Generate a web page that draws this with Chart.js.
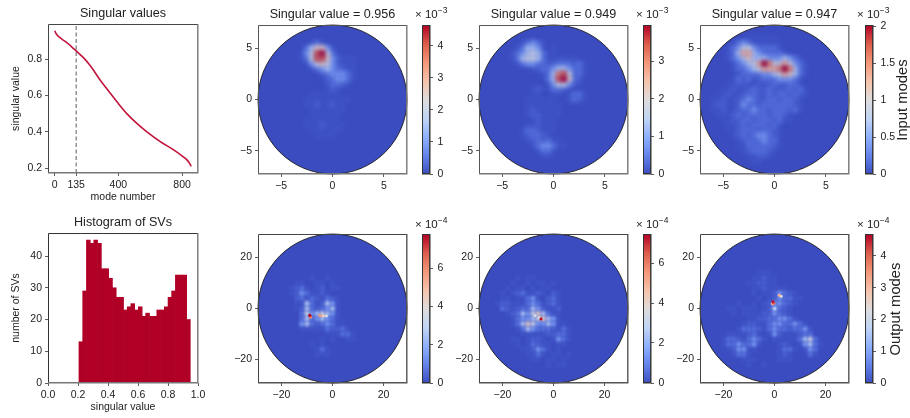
<!DOCTYPE html>
<html>
<head>
<meta charset="utf-8">
<title>Singular modes</title>
<script src="https://cdn.jsdelivr.net/npm/chart.js@4/dist/chart.umd.min.js"></script>
<style>
  html, body { margin: 0; padding: 0; background: #fff; overflow: hidden; }
  #page { position: relative; width: 910px; height: 418px; font-family: "Liberation Sans", Arial, sans-serif; color: #222; }
  canvas { position: absolute; }
  .mult { position: absolute; font-size: 11.5px; white-space: nowrap; }
  .mult sup { font-size: 8.5px; line-height: 0; vertical-align: 5px; }
  .side { position: absolute; font-size: 14.8px; white-space: nowrap; transform: translate(-50%, -50%) rotate(-90deg); }
</style>
</head>
<body>
<div id="page"></div>
<script>
// singular value curve
const modeNumbers = [1, 8, 21, 45, 74, 105, 135, 162, 189, 215, 242, 284, 337, 400, 453, 516, 579, 663, 747, 800, 832, 848, 857];
const singularValues = [0.956, 0.941, 0.927, 0.91, 0.892, 0.869, 0.845, 0.823, 0.8, 0.773, 0.741, 0.686, 0.626, 0.555, 0.5, 0.446, 0.4, 0.346, 0.3, 0.267, 0.244, 0.225, 0.21];
const cutoffMode = 135;
const modeTicks = [0, 135, 400, 800];
const svTicks = [0.2, 0.4, 0.6, 0.8];

// histogram
const binCenters = [0.219, 0.244, 0.269, 0.293, 0.318, 0.343, 0.367, 0.392, 0.417, 0.442, 0.466, 0.491, 0.516, 0.541, 0.565, 0.59, 0.615, 0.64, 0.664, 0.689, 0.714, 0.738, 0.763, 0.788, 0.813, 0.837, 0.862, 0.887, 0.912, 0.936];
const binCounts = [13, 29, 45, 44, 45, 44, 36, 36, 33, 30, 27, 27, 23, 24, 25, 23, 24, 21, 22, 21, 21, 23, 23, 24, 27, 29, 34, 34, 34, 20];
const histXTicks = [0, 0.2, 0.4, 0.6, 0.8, 1];
const histYTicks = [0, 10, 20, 30, 40];

// mode maps: one row per y, one char per x. "." is zero, a and b are faint, digits are rough ninths of the colour range
const input1Rows = [
  "", "", "",
  "..........a1a",
  ".........13552a",
  "........a248941a",
  "........a148852baaa",
  ".........a24542baaa",
  "..........a12321baa",
  "............b12221a",
  ".............b1221a",
  ".............a11ba",
  ".............aba",
  "..........aaaaaa",
  ".........aaaaaaaaa",
  ".........aabaabaa",
  "..........aaaaaaa",
  "..........aaaaaa",
  ".........aaaaaaa",
  ".........aaabaaaa",
  "..........aaaaaa",
  "...........aaaa"
];
const input2Rows = [
  "", "", "",
  "........a121a",
  ".......a1332a.a",
  "......a123431aa",
  "......a134431aaaaaa",
  ".......a12211bb111b1a",
  "..........ab11233211a",
  "............a1378411a",
  ".............138951b",
  ".............a2442ba",
  "..........abaa11ba",
  "..........aa..aa.a11a",
  ".........aaaaaa..a1ba",
  ".........aaaaaaa",
  ".........abaaaaa",
  ".........abbaaaa",
  "..........abaaa",
  ".........aabaaa",
  "........a11baaa",
  "........ab11ba",
  ".........ab1b1aa",
  "..........a1221aa",
  "...........a11a",
  "............aa"
];
const input3Rows = [
  "", "",
  ".........aaaaaa",
  "......a121aaaaaa",
  ".....a124421111a",
  ".....a1366321111a",
  ".....a1235333222321a",
  "......a1234697446421a",
  "......a1123466679731a",
  ".......a111122346531a",
  "......a1b1ab1112221a",
  ".....aabbaabab1bb11a",
  "....aabaab1bb1bbb1b1a",
  "...aabaab11bb1b11b1ba",
  "..aabaab121bb11b11ba",
  "..abbaab211b111111ba",
  "..aabaab11211b111b1a",
  "...aaab1b1111b11ba",
  "....aabb11b111b1aa",
  ".....aab1b111b1a",
  ".....aab111b11ba",
  "......ab1b1221ba",
  ".......ab111211a",
  ".......aa11111ba",
  "........ab111ba",
  ".........aabba",
  "..........aa"
];
const output1Rows = [
  "", "", "", "", "", "", "", "",
  "..........a..a",
  ".......aa..aa.a",
  "......ab1a.ab.aa",
  "......ab21aaba",
  ".......b1a1ba1ba",
  ".......aa31ab32a",
  ".......ab31b123a",
  "........1423432a",
  "........1312321a",
  "........231b121aa",
  "........aaaaa1bb1a",
  ".............aaa11a",
  "............a.a..aa",
  "..........a.a",
  "...........a1a",
  "...........aaa"
];
const output2Rows = [
  "", "", "", "", "", "", "", "",
  ".......a.aa",
  "......a..a.aa.a",
  ".....a.aa.a.aa",
  "....a.ab1aaba.ba",
  "....aa.aa12a.b1a",
  "...abbaaa121ab1a",
  "....1bab1132baab",
  ".....ab1324531aa",
  "......a12234532a",
  "......a13542232aa",
  ".......a132111ba1a",
  "........aaaaabb11a",
  "......aa.abba.a21a",
  ".......a.a1baa.aa",
  "........aab21a.a",
  ".........aa1a.aa.a",
  "..........aa.aa.a",
  ".............a.aa"
];
const output3Rows = [
  "", "", "", "", "", "", "",
  "...........aaa",
  "..........aabaa",
  ".........aabbaa",
  "..........aabaaaa",
  "..........a.aab21ba",
  "...........a.ab211aa",
  ".......a..a.ab221ba",
  ".....aa.aaa.ab31ba",
  "......a.aaaabb21ba",
  ".........aabb11221a",
  "........abbaa1221121a",
  ".......a111ba1211b112a",
  ".....aaaab1a.a2baaab11",
  "....a11ba121a.aaaaa1341",
  "....a112112a...aba.a231a",
  ".....ab22aa....a11a.a21",
  "......a11a.....aba...1a",
  "........aaa....aaa",
  ".........a..a"
];

// small bright spots of the output modes: x, y, value in units of 1e-4
const output1Peaks = [[-2.4, -2.9, 3.5], [-3.6, -2.9, 4.5], [-4.9, -2.8, 5.8], [-8.6, -3.4, 6.2], [-8.9, -2.7, 7.8]];
const output2Peaks = [[-7.2, -2.8, 3.4], [-5.6, -3.6, 3.5], [-4.9, -4.1, 7.3]];
const output3Peaks = [[0.1, 0, 1.6], [2.6, 4.8, 2.4], [1.9, 5.2, 3.2], [-0.8, 1.9, 3.2], [-0.3, 2.1, 4.0], [-0.6, 2.6, 4.6]];

const inputTicks = [-5, 0, 5];
const outputTicks = [-20, 0, 20];
const bar1Ticks = [0, 1, 2, 3, 4];
const bar2Ticks = [0, 1, 2, 3];
const bar3Ticks = [0, 0.5, 1, 1.5, 2];
const bar4Ticks = [0, 2, 4, 6];
const bar5Ticks = [0, 2, 4, 6];
const bar6Ticks = [0, 1, 2, 3, 4];

const RED = "#b00026";
const TEXT = "#222";
const fontFamily = '"Liberation Sans", Arial, sans-serif';

const page = document.getElementById("page");

const addCanvas = (left, top, width, height) => {
  const c = document.createElement("canvas");
  c.width = width;
  c.height = height;
  c.style.left = left + "px";
  c.style.top = top + "px";
  c.style.width = width + "px";
  c.style.height = height + "px";
  page.appendChild(c);
  return c;
};

const addText = (cls, left, top, html) => {
  const d = document.createElement("div");
  d.className = cls;
  d.style.left = left + "px";
  d.style.top = top + "px";
  d.innerHTML = html;
  page.appendChild(d);
};

// coolwarm
const stops = [[59, 76, 192], [98, 130, 234], [141, 176, 254], [192, 212, 245], [221, 221, 221], [245, 196, 173], [244, 152, 122], [222, 96, 77], [180, 4, 38]];
const coolwarm = (t) => {
  const f = Math.max(0, Math.min(1, t)) * (stops.length - 1);
  const i = Math.min(Math.floor(f), stops.length - 2);
  const k = f - i;
  const c = stops[i].map((v, j) => Math.round(v + (stops[i + 1][j] - v) * k));
  return `rgb(${c[0]},${c[1]},${c[2]})`;
};

const levelOf = (ch) => {
  if (ch === ".") return 0;
  if (ch === "a") return 0.02;
  if (ch === "b") return 0.05;
  if (ch === "1") return 0.09;
  if (ch === "2") return 0.19;
  return Number(ch) / 9;
};

const scaleBase = (ticks, boxSize, horizontal, extra) => ({
  type: "linear",
  offset: false,
  grid: { display: true, offset: false, drawOnChartArea: false, drawTicks: true, tickLength: 3, tickWidth: 0.8, tickColor: "#333" },
  border: { display: false },
  ticks: {
    autoSkip: false, maxRotation: 0, minRotation: 0, padding: 3, color: TEXT,
    font: { family: fontFamily, size: 10.5 },
    callback: (v) => String(v).replace("-", "\u2212"),
  },
  afterBuildTicks: (s) => { s.ticks = ticks.map((value) => ({ value })); },
  afterFit: (s) => {
    if (horizontal) s.height = boxSize; else s.width = boxSize;
    // tick labels may stick out, the plot box must not move for them
    s.paddingTop = s.paddingBottom = s.paddingLeft = s.paddingRight = 0;
  },
  ...extra,
});

const axisTitle = (text) => ({ display: true, text, color: TEXT, padding: 0, font: { family: fontFamily, size: 10.5 } });

const titleOpts = (text) => ({
  display: !!text, text, color: TEXT, fullSize: false,
  font: { family: fontFamily, size: 12.6, weight: "normal", lineHeight: 1.2 },
  padding: { top: 2.4, bottom: 2.5 },
});

// plain frame round the axes
const frame = (colorA, colorB) => ({
  id: "frame",
  afterDraw(chart) {
    const { left, right, top, bottom } = chart.chartArea;
    const ctx = chart.ctx;
    ctx.save();
    ctx.lineWidth = 1;
    ctx.strokeStyle = colorA;
    ctx.beginPath();
    ctx.moveTo(left + 0.5, bottom);
    ctx.lineTo(left + 0.5, top + 0.5);
    ctx.lineTo(right, top + 0.5);
    ctx.stroke();
    ctx.lineWidth = 1.4;
    ctx.strokeStyle = colorB;
    ctx.beginPath();
    ctx.moveTo(right - 0.2, top);
    ctx.lineTo(right - 0.2, bottom - 0.2);
    ctx.lineTo(left, bottom - 0.2);
    ctx.stroke();
    ctx.restore();
  },
});

// round aperture, map cells are clipped to it and softened
const aperture = (radius) => ({
  id: "aperture",
  beforeDatasetsDraw(chart) {
    const { x, y } = chart.scales;
    const ctx = chart.ctx;
    const cx = x.getPixelForValue(0), cy = y.getPixelForValue(0);
    const r = Math.abs(x.getPixelForValue(radius) - cx);
    ctx.save();
    ctx.beginPath();
    ctx.arc(cx, cy, r, 0, Math.PI * 2);
    ctx.fillStyle = coolwarm(0);
    ctx.fill();
    ctx.clip();
  },
  beforeDatasetDraw(chart, args) {
    chart.ctx.filter = `blur(${chart.data.datasets[args.index].blurPx}px)`;
  },
  afterDatasetDraw(chart) {
    chart.ctx.filter = "none";
  },
  afterDatasetsDraw(chart) {
    const { x, y } = chart.scales;
    const ctx = chart.ctx;
    ctx.restore();
    const cx = x.getPixelForValue(0), cy = y.getPixelForValue(0);
    const r = Math.abs(x.getPixelForValue(radius) - cx);
    ctx.save();
    ctx.beginPath();
    ctx.arc(cx, cy, r, 0, Math.PI * 2);
    ctx.lineWidth = 0.9;
    ctx.strokeStyle = "#1c1c1c";
    ctx.stroke();
    ctx.restore();
  },
});

const baseOptions = (padding) => ({
  responsive: false,
  animation: false,
  events: [],
  layout: { autoPadding: false, padding },
});

const addHeat = (o) => {
  const yBox = 38, xBox = 24, rightPad = 12;
  const topPad = o.title ? 20 : 8;
  const w = yBox + o.size + rightPad;
  const h = topPad + o.size + xBox;
  const cv = addCanvas(o.left - yBox, o.top - topPad, w, h);

  const cells = [];
  o.rows.forEach((row, r) => {
    [...row].forEach((ch, c) => {
      if (ch !== ".") cells.push({ x: -o.span + c * o.step, y: o.span - r * o.step, level: levelOf(ch) });
    });
  });
  cells.sort((a, b) => a.level - b.level);

  const datasets = [{
    data: cells,
    pointStyle: "circle",
    pointRadius: o.cellRadius,
    pointBorderWidth: 0,
    pointBackgroundColor: cells.map((p) => coolwarm(p.level)),
    blurPx: o.blur,
    order: 1,
  }];
  if (o.peaks) {
    datasets.push({
      data: o.peaks.map((p) => ({ x: p[0], y: p[1] })),
      pointStyle: "circle",
      pointRadius: 1.6,
      pointBorderWidth: 0,
      pointBackgroundColor: o.peaks.map((p) => coolwarm(p[2] / o.max)),
      blurPx: 0.4,
      order: 0,
    });
  }

  new Chart(cv, {
    type: "scatter",
    data: { datasets },
    options: {
      ...baseOptions({ top: o.title ? 0 : topPad, right: rightPad, bottom: 0, left: 0 }),
      plugins: { legend: { display: false }, tooltip: { enabled: false }, title: titleOpts(o.title) },
      scales: {
        x: scaleBase(o.ticks, xBox, true, { min: -o.limit, max: o.limit }),
        y: scaleBase(o.ticks, yBox, false, { min: -o.limit, max: o.limit }),
      },
    },
    plugins: [aperture(o.limit), frame(o.frameA, o.frameB)],
  });
};

const addColorbar = (o) => {
  const barW = o.width, box = 28, topPad = 8, bottomPad = 8;
  const cv = addCanvas(o.left, o.top - topPad, barW + box, o.height + topPad + bottomPad);
  const steps = 64;
  const ramp = Array.from({ length: steps }, (_, i) => (i + 0.5) / steps);
  const yScale = scaleBase(o.ticks, box, false, { position: "right", min: 0, max: o.max });
  yScale.ticks.padding = 4.5;
  new Chart(cv, {
    type: "bar",
    data: {
      datasets: [{
        data: ramp.map((t) => ({ x: 1, y: t * o.max })),
        backgroundColor: ramp.map(coolwarm),
        barThickness: 3.6,
      }],
    },
    options: {
      ...baseOptions({ top: topPad, right: 0, bottom: bottomPad, left: 0 }),
      indexAxis: "y",
      plugins: { legend: { display: false }, tooltip: { enabled: false } },
      scales: {
        x: { type: "linear", display: false, min: 0, max: 1 },
        y: yScale,
      },
    },
    plugins: [frame("#333", "#333")],
  });
  addText("mult", o.multLeft, o.multTop, `\u00d7 10<sup>\u2212${o.exp}</sup>`);
};

// singular values
new Chart(addCanvas(10, 4, 200, 199), {
  type: "line",
  data: {
    datasets: [
      {
        data: modeNumbers.map((x, i) => ({ x, y: singularValues[i] })),
        borderColor: "#c0143c", borderWidth: 1.6, pointRadius: 0, cubicInterpolationMode: "monotone",
      },
      {
        data: [{ x: cutoffMode, y: 0.173 }, { x: cutoffMode, y: 0.993 }],
        borderColor: "#777", borderWidth: 1.2, borderDash: [4, 2.5], pointRadius: 0,
      },
    ],
  },
  options: {
    ...baseOptions({ top: 0, right: 12, bottom: 0, left: 0 }),
    plugins: { legend: { display: false }, tooltip: { enabled: false }, title: titleOpts("Singular values") },
    scales: {
      x: scaleBase(modeTicks, 30, true, { min: -42, max: 900, title: axisTitle("mode number") }),
      y: scaleBase(svTicks, 38, false, { min: 0.173, max: 0.993, title: axisTitle("singular value") }),
    },
  },
  plugins: [frame("#444", "#777")],
});

// histogram
const histX = scaleBase(histXTicks, 30, true, { min: 0, max: 1, title: axisTitle("singular value") });
histX.ticks.callback = (v) => Number(v).toFixed(1);
new Chart(addCanvas(10, 213, 200, 200), {
  type: "bar",
  data: {
    datasets: [{
      data: binCenters.map((x, i) => ({ x, y: binCounts[i] })),
      backgroundColor: RED,
      barThickness: 3.8,
    }],
  },
  options: {
    ...baseOptions({ top: 0, right: 12, bottom: 0, left: 0 }),
    plugins: { legend: { display: false }, tooltip: { enabled: false }, title: titleOpts("Histogram of SVs") },
    scales: {
      x: histX,
      y: scaleBase(histYTicks, 38, false, { min: 0, max: 47.25, title: axisTitle("number of SVs") }),
    },
  },
  plugins: [frame("#333", "#777")],
});

const inputCommon = { top: 25, size: 149, span: 7, step: 0.5, limit: 7.25, ticks: inputTicks, cellRadius: 3.1, blur: 2.1, frameA: "#555", frameB: "#777" };
const outputCommon = { top: 234, size: 149, span: 28, step: 2, limit: 29.2, ticks: outputTicks, cellRadius: 2.6, blur: 1.5, frameA: "#444", frameB: "#555" };

addHeat({ ...inputCommon, left: 258, rows: input1Rows, max: 4.65, title: "Singular value = 0.956" });
addHeat({ ...inputCommon, left: 479, rows: input2Rows, max: 3.96, title: "Singular value = 0.949" });
addHeat({ ...inputCommon, left: 700, rows: input3Rows, max: 2.02, title: "Singular value = 0.947" });
addHeat({ ...outputCommon, left: 258, rows: output1Rows, peaks: output1Peaks, max: 7.8 });
addHeat({ ...outputCommon, left: 479, rows: output2Rows, peaks: output2Peaks, max: 7.45 });
addHeat({ ...outputCommon, left: 700, rows: output3Rows, peaks: output3Peaks, max: 4.69 });

addColorbar({ left: 422, top: 25, width: 8, height: 149, max: 4.65, ticks: bar1Ticks, exp: 3, multLeft: 415, multTop: 8 });
addColorbar({ left: 643, top: 25, width: 8, height: 149, max: 3.96, ticks: bar2Ticks, exp: 3, multLeft: 636, multTop: 8 });
addColorbar({ left: 865, top: 25, width: 8, height: 149, max: 2.02, ticks: bar3Ticks, exp: 3, multLeft: 857, multTop: 8 });
addColorbar({ left: 422, top: 234, width: 8, height: 149, max: 7.8, ticks: bar4Ticks, exp: 4, multLeft: 415, multTop: 218 });
addColorbar({ left: 643, top: 234, width: 8, height: 149, max: 7.45, ticks: bar5Ticks, exp: 4, multLeft: 636, multTop: 218 });
addColorbar({ left: 865, top: 234, width: 8, height: 149, max: 4.69, ticks: bar6Ticks, exp: 4, multLeft: 857, multTop: 218 });

addText("side", 902, 100, "Input modes");
addText("side", 895, 309, "Output modes");
</script>
</body>
</html>
